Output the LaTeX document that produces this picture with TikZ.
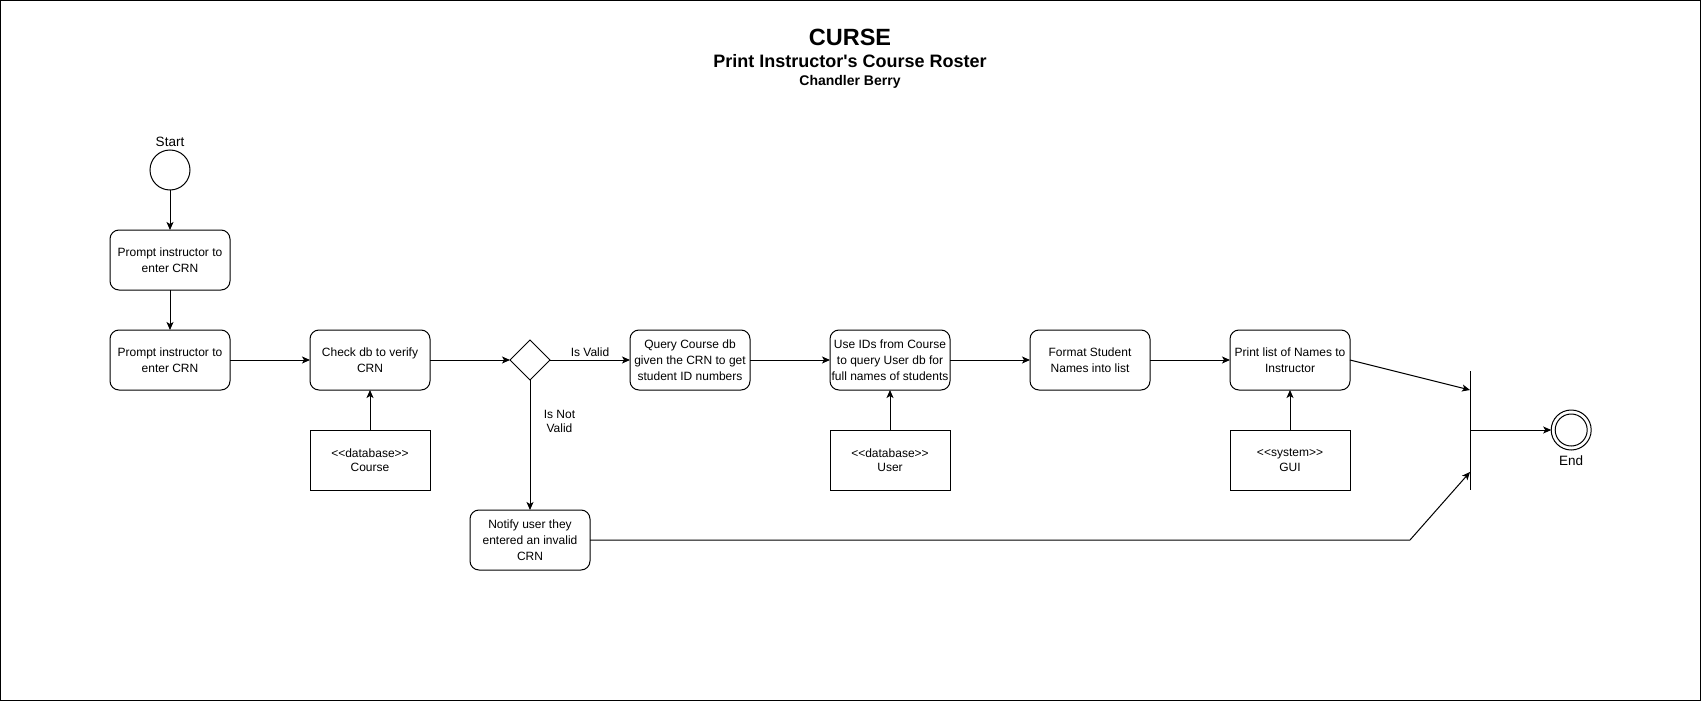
\documentclass[tikz,border=0pt]{standalone}
\usepackage{fontspec}
\setmainfont{Liberation Sans}
\usetikzlibrary{shapes.geometric,arrows.meta,positioning}
\tikzstyle{block} = [rectangle, draw, rounded corners=9pt, align=center, minimum width=120pt, minimum height=60pt, inner sep=1pt, outer sep=0pt]
\tikzstyle{store} = [rectangle, draw, align=center, minimum width=120pt, minimum height=60pt, inner sep=1pt, outer sep=0pt]
\tikzstyle{decision} = [diamond, draw, minimum width=40pt, minimum height=40pt, inner sep=0pt, outer sep=0pt]
\tikzstyle{startstate} = [circle, draw, minimum size=40pt, inner sep=0pt, outer sep=0pt]
\tikzstyle{endstate} = [circle, draw, minimum size=40pt, inner sep=0pt, outer sep=0pt]
\tikzstyle{bar} = [rectangle, fill=black, minimum width=1.2pt, minimum height=119pt, inner sep=0pt, outer sep=0pt]
\newcommand{\stereo}[1]{{\fontsize{12}{14.5}\selectfont<\kern0pt<#1>\kern0pt>}}

\begin{document}
\begin{tikzpicture}[line width=1pt, >={Stealth[length=8pt,width=7pt,inset=2pt]}, node distance=80pt, font=\fontsize{12}{16}\selectfont]
    \useasboundingbox (0,0) rectangle (1701pt,-701pt);
    \draw (0.5pt,-0.5pt) rectangle (1700.5pt,-700.5pt);
    % title
    \node[font=\fontsize{23.5}{28}\selectfont\bfseries] (title) at (850pt,-37pt) {CURSE};
    \node[font=\fontsize{18}{22}\selectfont\bfseries] (subtitle) at (850pt,-61.5pt) {Print Instructor\textquotesingle s Course Roster};
    \node[font=\fontsize{14}{17}\selectfont\bfseries] (author) at (850pt,-81.5pt) {Chandler Berry};

    \node[startstate, label={[font=\fontsize{13.5}{16}\selectfont]above:Start}] (start) at (170pt,-170pt) {};
    \node[block, below=40pt of start] (prompt1) {Prompt instructor to\\enter CRN};
    \node[block, below=40pt of prompt1] (prompt2) {Prompt instructor to\\enter CRN};
    \node[block, right=of prompt2] (check) {Check db to verify\\CRN};
    \node[decision, right=of check] (valid) {};
    \node[block, right=of valid] (query) {Query Course db\\given the CRN to get\\student ID numbers};
    \node[block, right=of query] (names) {Use IDs from Course\\to query User db for\\full names of students};
    \node[block, right=of names] (format) {Format Student\\Names into list};
    \node[block, right=of format] (print) {Print list of Names to\\Instructor};
    \node[block, below=130pt of valid] (notify) {Notify user they\\entered an invalid\\CRN};

    \node[store, below=40pt of check] (coursedb) {\stereo{database}\\[-1.5pt]Course};
    \node[store, below=40pt of names] (userdb) {\stereo{database}\\[-1.5pt]User};
    \node[store, below=40pt of print] (gui) {\stereo{system}\\[-1.5pt]GUI};

    \node[bar, right=120pt of print, yshift=-70pt] (join) {};
    \node[endstate, right=of join, label={[font=\fontsize{13.5}{16}\selectfont, label distance=1.5pt]below:End}] (finish) {};
    \node[endstate, minimum size=32pt] (finishinner) at (finish) {};
    \coordinate (bend) at ([xshift=820pt]notify.east);

    \draw[->] (start) -- (prompt1);
    \draw[->] (prompt1) -- (prompt2);
    \draw[->] (prompt2) -- (check);
    \draw[->] (check) -- (valid);
    \draw[->] (valid) -- node[above] {Is Valid} (query);
    \draw[->] (valid) -- node[right, pos=0.32, xshift=10pt, align=center, font=\fontsize{12}{13.5}\selectfont] {Is Not\\Valid} (notify);
    \draw[->] (query) -- (names);
    \draw[->] (names) -- (format);
    \draw[->] (format) -- (print);
    \draw[->] (coursedb) -- (check);
    \draw[->] (userdb) -- (names);
    \draw[->] (gui) -- (print);
    \draw[->] (print.east) -- ([yshift=40pt]join.west);
    \draw[->] (notify.east) -- (bend) -- ([yshift=-42pt]join.west);
    \draw[->] (join) -- (finish);
\end{tikzpicture}
\end{document}
